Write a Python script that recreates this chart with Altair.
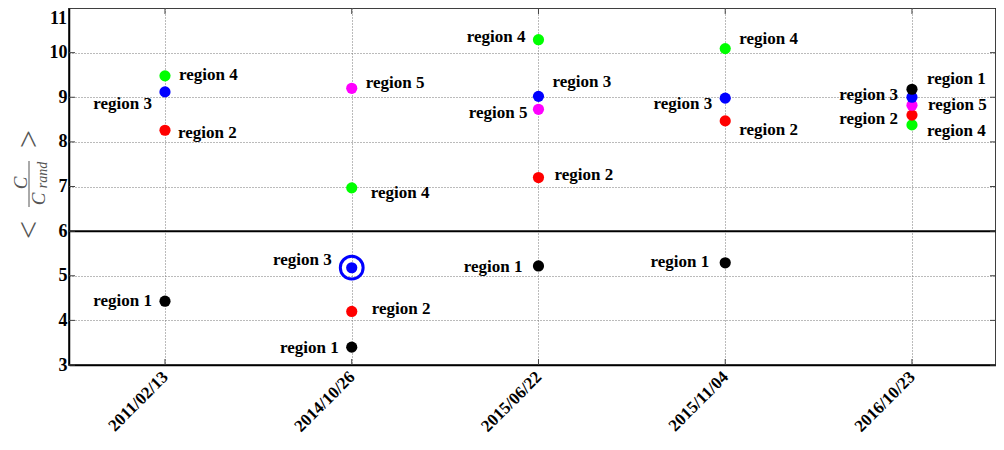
import json
import altair as alt
import pandas as pd

# ---------------- data ----------------
dates = ["2011/02/13", "2014/10/26", "2015/06/22", "2015/11/04", "2016/10/23"]
regions = ["region 1", "region 2", "region 3", "region 4", "region 5"]
region_colors = ["#000000", "#ff0000", "#0000ff", "#00ff00", "#ff00ff"]

region1 = [4.43, 3.40, 5.22, 5.29, 9.18]
region2 = [8.26, 4.20, 7.20, 8.47, 8.60]
region3 = [9.12, 5.18, 9.02, 8.98, 9.00]
region4 = [9.48, 6.97, 10.29, 10.09, 8.38]
region5 = [None, 9.20, 8.73, None, 8.82]

threshold = 6
highlight = ("2014/10/26", "region 3")
y_ticks = [3, 4, 5, 6, 7, 8, 9, 10, 11]

# label layout: (side, dx px, dy px) per date
layout1 = [("L", -13, 0), ("L", -13, 1), ("L", -16, 1), ("L", -16, -1), ("R", 15, -10)]
layout2 = [("R", 13, 3), ("R", 20, -2), ("R", 16, -3), ("R", 14, 9), ("L", -14, 4)]
layout3 = [("L", -13, 12), ("L", -20, -8), ("R", 14, -14), ("L", -13, 6), ("L", -14, -2)]
layout4 = [("R", 14, -1), ("R", 19, 5), ("L", -13, -3), ("R", 14, -10), ("R", 15, 6)]
layout5 = [None, ("R", 14, -5), ("L", -11, 4), None, ("R", 16, 0)]
draw_rank = [5, 2, 4, 1, 3]  # drawing order of regions (higher on top)

# ---------------- geometry ----------------
W, H = 927, 357
X0, X1 = 0.486, 5.45
Y0, Y1 = 3, 11
PX_X = W / (X1 - X0)
PX_Y = H / (Y1 - Y0)

values = [region1, region2, region3, region4, region5]
layouts = [layout1, layout2, layout3, layout4, layout5]
rows = []
for ri, r in enumerate(regions):
    for i, d in enumerate(dates):
        v = values[ri][i]
        if v is None:
            continue
        side, dx, dy = layouts[ri][i]
        rows.append(dict(idx=i + 1, date=d, region=r, value=v, side=side,
                         dx=dx, dy=dy, draw=draw_rank[ri],
                         hl=(d, r) == highlight))
df = pd.DataFrame(rows)

label_expr = f"{json.dumps(dates)}[datum.value - 1]"
lab_font = "Liberation Serif"

x_enc = alt.X("idx:Q",
              scale=alt.Scale(domain=[X0, X1], nice=False, zero=False),
              axis=alt.Axis(values=list(range(1, len(dates) + 1)), labelExpr=label_expr,
                            title=None, labelAngle=-45, labelAlign="right",
                            labelBaseline="middle", labelPadding=9, ticks=False,
                            labelFont=lab_font, labelFontWeight="bold",
                            labelFontSize=17, labelColor="black",
                            grid=True, gridDash=[1, 2], gridColor="#777777",
                            domainColor="black", domainWidth=1.5))
y_enc = alt.Y("value:Q",
              scale=alt.Scale(domain=[Y0, Y1], nice=False, zero=False),
              axis=alt.Axis(values=y_ticks[:-1], title=None, ticks=False,
                            labelPadding=2, labelFont=lab_font,
                            labelFontWeight="bold", labelFontSize=18, labelColor="black",
                            grid=True, gridDash=[1, 2], gridColor="#777777",
                            domainColor="black", domainWidth=1.5))

base = alt.Chart(df)

points = base.mark_circle(size=125, opacity=1).encode(
    x=x_enc, y=y_enc,
    color=alt.Color("region:N", scale=alt.Scale(domain=regions, range=region_colors), legend=None),
    order=alt.Order("draw:Q"),
)

ring = base.transform_filter("datum.hl").mark_point(
    shape="circle", filled=False, size=520, strokeWidth=3, color="#0000ff", opacity=1
).encode(x=alt.X("idx:Q"), y=alt.Y("value:Q"))

lab = base.transform_calculate(
    lx=f"datum.idx + datum.dx / {PX_X}", ly=f"datum.value - datum.dy / {PX_Y}"
)
text_style = dict(baseline="middle", font=lab_font, fontWeight="bold",
                  fontSize=17, color="black")
labels_r = lab.transform_filter("datum.side == 'R'").mark_text(align="left", **text_style).encode(
    x=alt.X("lx:Q"), y=alt.Y("ly:Q"), text="region:N")
labels_l = lab.transform_filter("datum.side == 'L'").mark_text(align="right", **text_style).encode(
    x=alt.X("lx:Q"), y=alt.Y("ly:Q"), text="region:N")

# top tick label drawn inside the visible page
top_label = alt.Chart(pd.DataFrame({"t": [y_ticks[-1]]})).mark_text(
    align="right", baseline="top", font=lab_font, fontWeight="bold", fontSize=18,
    color="black", dy=2
).encode(y=alt.Y("t:Q"), x=alt.value(-2), text=alt.Text("t:Q"))

thr = alt.Chart(pd.DataFrame({"t": [threshold]})).mark_rule(color="black", strokeWidth=2).encode(
    y=alt.Y("t:Q"))

ticks_df = pd.DataFrame({"t": y_ticks})
xt_df = pd.DataFrame({"t": list(range(1, len(dates) + 1))})
tick_style = dict(color="#444444", strokeWidth=1)
yt_left = alt.Chart(ticks_df).mark_rule(**tick_style).encode(
    y=alt.Y("t:Q"), x=alt.value(0), x2=alt.value(6))
yt_right = alt.Chart(ticks_df).mark_rule(**tick_style).encode(
    y=alt.Y("t:Q"), x=alt.value(W - 6), x2=alt.value(W))
xt_bot = alt.Chart(xt_df).mark_rule(**tick_style).encode(
    x=alt.X("t:Q"), y=alt.value(H - 6), y2=alt.value(H))
xt_top = alt.Chart(xt_df).mark_rule(**tick_style).encode(
    x=alt.X("t:Q"), y=alt.value(0), y2=alt.value(6))

# y-axis title drawn as a rotated fraction  < C / C_rand >
one = pd.DataFrame({"a": [0]})
title_col = "#555555"
def ttext(txt, x, y, size, italic=True):
    return alt.Chart(one).mark_text(
        text=txt, angle=270, align="center", baseline="middle", font="Liberation Serif",
        fontStyle="italic" if italic else "normal", fontSize=size, color=title_col
    ).encode(x=alt.value(x), y=alt.value(y))

lt = ttext("<", -40, 222, 32, italic=False)
gt = ttext(">", -40, 131, 32, italic=False)
num = ttext("C", -48, 175, 19)
den_c = ttext("C", -30, 191, 19)
den_r = ttext("rand", -26, 167, 14)
frac = alt.Chart(one).mark_rule(color=title_col, strokeWidth=1).encode(
    x=alt.value(-40), y=alt.value(153), y2=alt.value(199))

chart = alt.layer(
    thr, yt_left, yt_right, xt_bot, xt_top, points, ring, labels_r, labels_l,
    top_label, lt, gt, num, den_c, den_r, frac
).properties(
    width=W, height=H,
    autosize=alt.AutoSizeParams(type="none"),
    padding={"left": 61, "top": 0, "right": 0, "bottom": 77},
    background="white",
).configure_view(stroke="black", strokeWidth=1.5)

chart.save("out.html", embed_options={"renderer": "svg", "actions": False})
